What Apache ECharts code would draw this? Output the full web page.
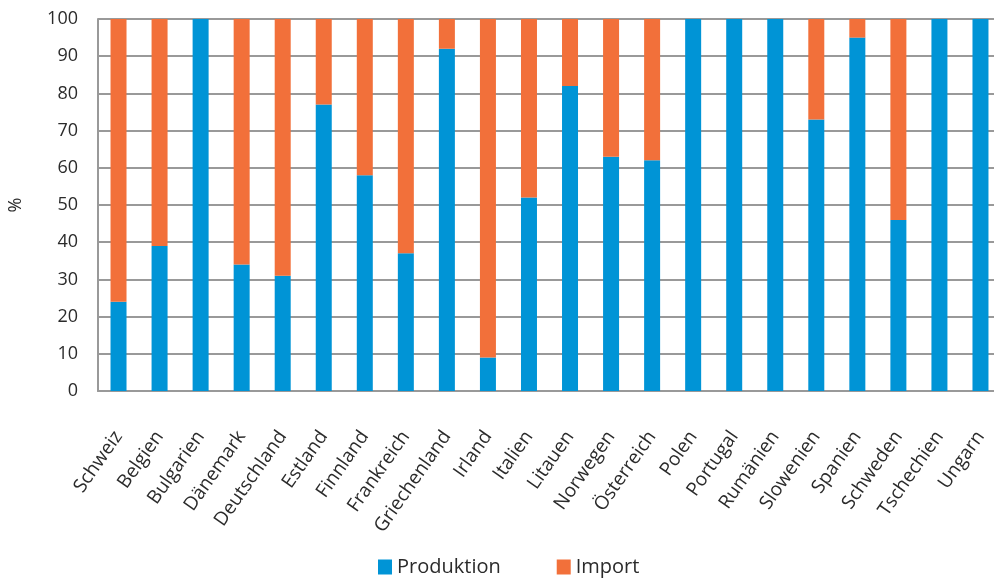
<!DOCTYPE html>
<html>
<head>
<meta charset="utf-8">
<script src="https://cdn.jsdelivr.net/npm/echarts@6/dist/echarts.min.js"></script>
<style>
  html, body { margin: 0; padding: 0; background: #fff; }
  #chart { width: 994px; height: 581px; }
</style>
</head>
<body>
<div id="chart"></div>
<script>
// Countries on the category axis
const countries = [
  'Schweiz', 'Belgien', 'Bulgarien', 'Dänemark', 'Deutschland', 'Estland',
  'Finnland', 'Frankreich', 'Griechenland', 'Irland', 'Italien', 'Litauen',
  'Norwegen', 'Österreich', 'Polen', 'Portugal', 'Rumänien', 'Slowenien',
  'Spanien', 'Schweden', 'Tschechien', 'Ungarn'
];

// Share of domestic production (%)
const produktion = [24, 39, 100, 34, 31, 77, 58, 37, 92, 9, 52, 82, 63, 62, 100, 100, 100, 73, 95, 46, 100, 100];

// Share of imports (%)
const importShare = [76, 61, 0, 66, 69, 23, 42, 63, 8, 91, 48, 18, 37, 38, 0, 0, 0, 27, 5, 54, 0, 0];

// Value axis ticks
const yTicks = { min: 0, max: 100, step: 10 };

const textColor = '#2b2b2b';
const font = 'Open Sans';

const chart = echarts.init(document.getElementById('chart'));
chart.setOption({
  animation: false,
  textStyle: { fontFamily: font },
  // plot area runs slightly past the right edge of the canvas
  grid: { left: 98, width: 903, top: 19, height: 372, containLabel: false, outerBoundsMode: 'none' },
  legend: {
    top: 557,
    left: 378,
    padding: 0,
    itemWidth: 14,
    itemHeight: 15,
    itemGap: 56,
    icon: 'rect',
    textStyle: { fontFamily: font, fontSize: 20, color: textColor },
    data: ['Produktion', 'Import']
  },
  xAxis: {
    type: 'category',
    data: countries,
    axisLine: { lineStyle: { color: '#999', width: 2 } },
    axisTick: { show: false },
    axisLabel: {
      rotate: 55,
      interval: 0,
      margin: 42,
      fontSize: 19,
      color: textColor,
      fontFamily: font
    }
  },
  yAxis: {
    type: 'value',
    min: yTicks.min,
    max: yTicks.max,
    interval: yTicks.step,
    name: '%',
    nameLocation: 'middle',
    nameGap: 73,
    nameRotate: 90,
    nameTextStyle: { fontSize: 18, color: textColor, fontFamily: font },
    axisLine: { show: true, lineStyle: { color: '#999', width: 2 } },
    axisTick: { show: false },
    axisLabel: { fontSize: 18, color: textColor, margin: 20, fontFamily: font },
    splitLine: { lineStyle: { color: '#999', width: 2 } }
  },
  series: [
    {
      name: 'Produktion',
      type: 'bar',
      stack: 'total',
      barWidth: 16,
      itemStyle: { color: '#0094d6' },
      data: produktion
    },
    {
      name: 'Import',
      type: 'bar',
      stack: 'total',
      barWidth: 16,
      itemStyle: { color: '#f2703a' },
      data: importShare
    }
  ]
});
</script>
</body>
</html>
